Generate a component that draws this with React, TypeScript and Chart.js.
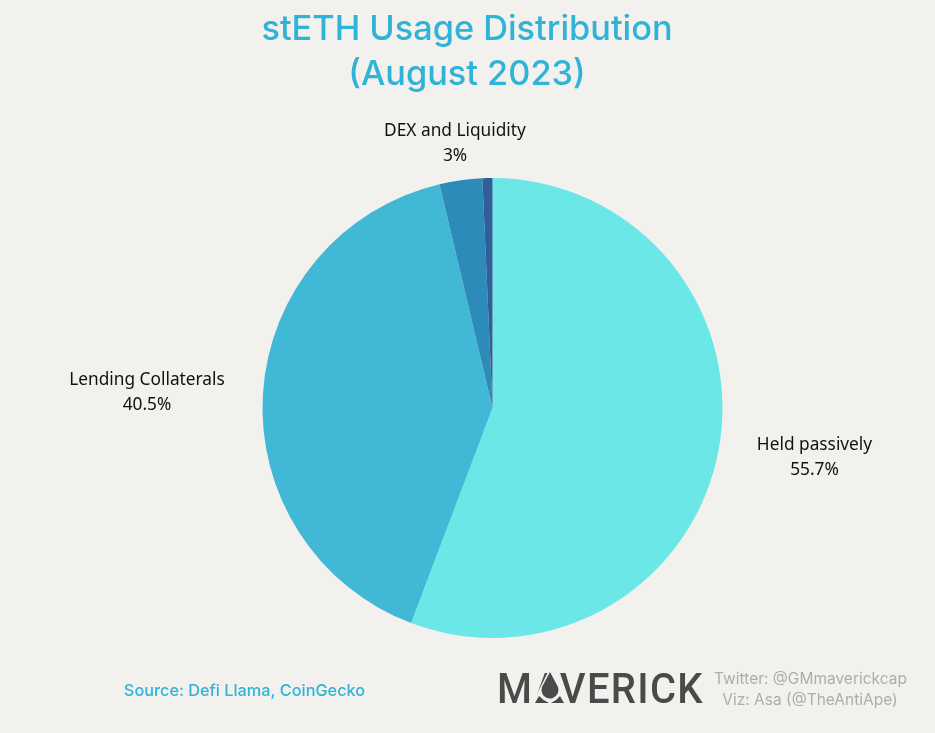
import React, { useEffect, useRef } from "react";
import { Chart, registerables } from "chart.js";

Chart.register(...registerables);

const categories = ["Held passively", "Lending Collaterals", "DEX and Liquidity", "Other"];
const values = [55.7, 40.5, 3, 0.7];
const labelled = [true, true, true, false];
const colors = ["#6BE7E8", "#41B8D5", "#2D8BBA", "#2F5F98"];
const titleLines = ["stETH Usage Distribution", "(August 2023)"];
const sourceText = "Source: Defi Llama, CoinGecko";
const logoText = "MAVERICK";
const creditLines = ["Twitter: @GMmaverickcap", "Viz: Asa (@TheAntiApe)"];

const BG = "#F2F1ED";
const TEAL = "#2FB4D8";
const LOGO = "#4A4A4A";

const labelOffsets = [
  { x: 814.5, y: 445 },
  { x: 147, y: 380 },
  { x: 455, y: 131 },
];

function drawLogo(ctx: any) {
  ctx.save();
  ctx.fillStyle = LOGO;
  ctx.translate(497, 703);
  ctx.scale(0.93, 1);
  ctx.font = "500 43px Roboto";
  ctx.letterSpacing = "1.4px";
  ctx.textAlign = "left";
  ctx.textBaseline = "alphabetic";
  ctx.fillText(logoText, 0, 0);
  ctx.restore();

  // The logo's A: a drop under the apex, with two small feet.
  const cx = 550;
  ctx.save();
  ctx.fillStyle = BG;
  ctx.beginPath();
  ctx.moveTo(cx, 668);
  ctx.lineTo(cx + 18, 704);
  ctx.lineTo(cx - 18, 704);
  ctx.closePath();
  ctx.fill();
  ctx.fillStyle = LOGO;
  ctx.beginPath();
  ctx.moveTo(cx, 672);
  ctx.lineTo(cx + 8, 687);
  ctx.arc(cx, 690, 8.5, -0.35, Math.PI + 0.35);
  ctx.lineTo(cx, 672);
  ctx.closePath();
  ctx.fill();
  ctx.beginPath();
  ctx.moveTo(cx - 15, 703);
  ctx.lineTo(cx - 11, 696);
  ctx.quadraticCurveTo(cx - 6, 701, cx - 1, 703);
  ctx.closePath();
  ctx.moveTo(cx + 14, 703);
  ctx.lineTo(cx + 10, 696);
  ctx.quadraticCurveTo(cx + 6, 701, cx + 1, 703);
  ctx.closePath();
  ctx.fill();
  ctx.restore();
}

const overlay = {
  id: "overlay",
  afterDraw(chart: any) {
    const ctx = chart.ctx;
    ctx.save();
    ctx.textAlign = "center";
    ctx.textBaseline = "middle";
    ctx.fillStyle = TEAL;
    ctx.font = "500 34.3px Inter";
    ctx.fillText(titleLines[0], 467, 30);
    ctx.fillText(titleLines[1], 467, 75);
    ctx.fillStyle = "#111";
    ctx.font = "17.3px 'Noto Sans'";
    categories.forEach((name, i) => {
      if (!labelled[i]) return;
      const p = labelOffsets[i];
      ctx.fillText(name, p.x, p.y);
      ctx.fillText(`${values[i]}%`, p.x, p.y + 25);
    });
    ctx.fillStyle = TEAL;
    ctx.font = "500 16.3px Inter";
    ctx.fillText(sourceText, 244.5, 691);
    drawLogo(ctx);
    ctx.fillStyle = "#ADADAD";
    ctx.font = "15.5px Inter";
    ctx.fillText(creditLines[0], 810.5, 679);
    ctx.fillText(creditLines[1], 810, 700);
    ctx.restore();
  },
};

export default function App() {
  const ref = useRef<HTMLCanvasElement>(null);
  useEffect(() => {
    document.body.style.margin = "0";
    document.body.style.background = BG;
    const chart = new Chart(ref.current!, {
      type: "pie",
      data: {
        labels: categories,
        datasets: [{ data: values, backgroundColor: colors, borderWidth: 0 }],
      },
      options: {
        responsive: false,
        animation: false,
        layout: { padding: { left: 262, right: 212, top: 178, bottom: 95 } },
        plugins: {
          legend: { display: false },
          tooltip: { enabled: false },
          title: { display: false },
        },
      },
      plugins: [overlay],
    });
    return () => chart.destroy();
  }, []);
  return <canvas ref={ref} width={935} height={733} style={{ display: "block", background: BG }} />;
}
